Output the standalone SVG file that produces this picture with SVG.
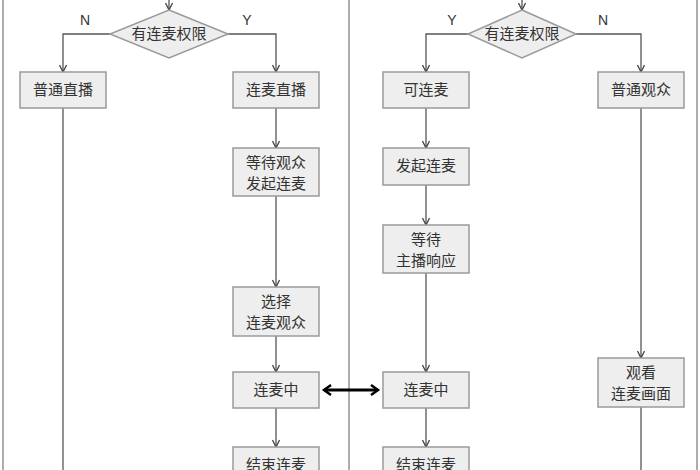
<svg xmlns="http://www.w3.org/2000/svg" width="700" height="470" viewBox="0 0 700 470">
<defs>
<marker id="a" markerWidth="10" markerHeight="8" refX="8" refY="4" orient="auto" markerUnits="userSpaceOnUse"><path d="M1,0.5 L8,4 L1,7.5" fill="none" stroke="#444" stroke-width="1.3"/></marker>
<marker id="b" markerWidth="12" markerHeight="12" refX="9" refY="6" orient="auto-start-reverse" markerUnits="userSpaceOnUse"><path d="M2,1 L9,6 L2,11" fill="none" stroke="#000" stroke-width="2.5"/></marker>
</defs>
<style>
.n{fill:#eeeeee;stroke:#9a9a9a;stroke-width:1.5}
.t{font-family:"Noto Sans CJK SC","Liberation Sans",sans-serif;font-size:15px;fill:#333;text-anchor:middle}
.l{font-family:"Liberation Sans",sans-serif;font-size:14px;fill:#333;text-anchor:middle}
.c{fill:none;stroke:#555;stroke-width:1.3}
.f{fill:none;stroke:#777;stroke-width:1.2}
</style>
<rect width="700" height="470" fill="#fff"/>
<path class="f" d="M3,0V470M349,0V470M697,0V470"/>
<g id="connectors">
<path class="c" d="M169,0V10" marker-end="url(#a)"/>
<path class="c" d="M110,34H63V72" marker-end="url(#a)"/>
<path class="c" d="M63,108V470"/>
<path class="c" d="M228,34H276V72" marker-end="url(#a)"/>
<path class="c" d="M276,108V148" marker-end="url(#a)"/>
<path class="c" d="M276,196V287" marker-end="url(#a)"/>
<path class="c" d="M276,336V372" marker-end="url(#a)"/>
<path class="c" d="M276,408V447" marker-end="url(#a)"/>
<path class="c" d="M522,0V10" marker-end="url(#a)"/>
<path class="c" d="M470,34H426V72" marker-end="url(#a)"/>
<path class="c" d="M426,108V148" marker-end="url(#a)"/>
<path class="c" d="M426,185V225" marker-end="url(#a)"/>
<path class="c" d="M426,273V372" marker-end="url(#a)"/>
<path class="c" d="M426,408V447" marker-end="url(#a)"/>
<path class="c" d="M576,34H641V72" marker-end="url(#a)"/>
<path class="c" d="M641,108V358" marker-end="url(#a)"/>
<path class="c" d="M641,407V470"/>
<path d="M324,390H378" stroke="#000" stroke-width="3" fill="none" marker-start="url(#b)" marker-end="url(#b)"/>
<text class="l" x="85" y="25">N</text>
<text class="l" x="247" y="25">Y</text>
<text class="l" x="452" y="25">Y</text>
<text class="l" x="603" y="25">N</text>
</g>
<g id="d1"><path class="n" d="M169,10L228,34L169,58L110,34Z"/><text class="t" x="169" y="39">有连麦权限</text></g>
<g id="n1"><rect class="n" x="20" y="72" width="86" height="36"/><text class="t" x="63" y="95">普通直播</text></g>
<g id="n2"><rect class="n" x="233" y="72" width="86" height="36"/><text class="t" x="276" y="95">连麦直播</text></g>
<g id="n3"><rect class="n" x="233" y="148" width="86" height="48"/><text class="t" x="276" y="168">等待观众</text><text class="t" x="276" y="189">发起连麦</text></g>
<g id="n4"><rect class="n" x="233" y="287" width="86" height="49"/><text class="t" x="276" y="307">选择</text><text class="t" x="276" y="328">连麦观众</text></g>
<g id="n5"><rect class="n" x="233" y="372" width="86" height="36"/><text class="t" x="276" y="395">连麦中</text></g>
<g id="n6"><rect class="n" x="233" y="447" width="86" height="36"/><text class="t" x="276" y="470">结束连麦</text></g>
<g id="d2"><path class="n" d="M522,10L576,34L522,58L468,34Z"/><text class="t" x="522" y="39">有连麦权限</text></g>
<g id="m1"><rect class="n" x="383" y="72" width="86" height="36"/><text class="t" x="426" y="95">可连麦</text></g>
<g id="m2"><rect class="n" x="383" y="148" width="86" height="37"/><text class="t" x="426" y="171">发起连麦</text></g>
<g id="m3"><rect class="n" x="383" y="225" width="86" height="48"/><text class="t" x="426" y="245">等待</text><text class="t" x="426" y="266">主播响应</text></g>
<g id="m4"><rect class="n" x="383" y="372" width="86" height="36"/><text class="t" x="426" y="395">连麦中</text></g>
<g id="m5"><rect class="n" x="383" y="447" width="86" height="36"/><text class="t" x="426" y="470">结束连麦</text></g>
<g id="m6"><rect class="n" x="598" y="72" width="86" height="36"/><text class="t" x="641" y="95">普通观众</text></g>
<g id="m7"><rect class="n" x="598" y="358" width="86" height="49"/><text class="t" x="641" y="378">观看</text><text class="t" x="641" y="399">连麦画面</text></g>
</svg>
